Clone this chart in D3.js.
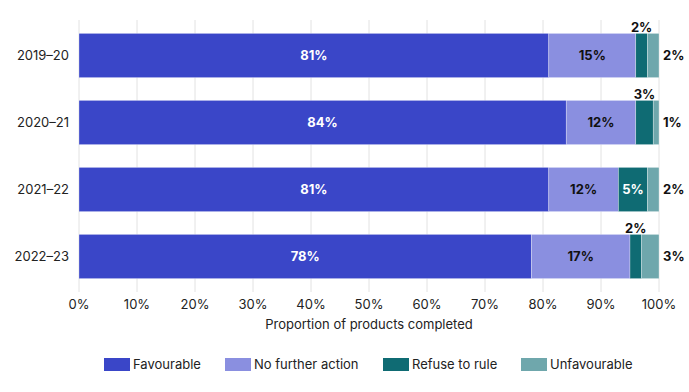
<!DOCTYPE html>
<html><head><meta charset="utf-8">
<script src="https://cdn.jsdelivr.net/npm/d3@7"></script>
<style>body{margin:0;background:#fff;font-family:Inter,"Noto Sans",sans-serif;}</style>
</head><body><svg id="c" width="689" height="392"></svg>
<script>
const categories = ["2019–20","2020–21","2021–22","2022–23"];
const seriesNames = ["Favourable","No further action","Refuse to rule","Unfavourable"];
const favourable = [81,84,81,78];
const noFurtherAction = [15,12,12,17];
const refuseToRule = [2,3,5,2];
const unfavourable = [2,1,2,3];
const xTicks = [0,10,20,30,40,50,60,70,80,90,100];
const colors = ["#3a46c8","#8a8fe0","#0f6b73","#6fa7ac"];

const svg = d3.select("#c");
const x = d3.scaleLinear().domain([0,100]).range([79,659]);
const y = d3.scaleBand().domain(categories).range([22,290]).paddingInner(0.34).paddingOuter(0.17);

const rows = categories.map((c,i)=>({cat:c, vals:[favourable[i],noFurtherAction[i],refuseToRule[i],unfavourable[i]]}));

// gridlines
svg.append("g").selectAll("line").data(xTicks).join("line")
  .attr("x1",d=>x(d)).attr("x2",d=>x(d)).attr("y1",20).attr("y2",292)
  .attr("stroke","#e2e2e2").attr("stroke-width",1);

// axis labels
svg.append("g").selectAll("text").data(xTicks).join("text")
  .attr("x",d=>x(d)).attr("y",309).attr("text-anchor","middle")
  .attr("font-size",13).attr("fill","#222").text(d=>d+"%");
svg.append("text").attr("x",x(50)).attr("y",329).attr("text-anchor","middle")
  .attr("font-size",13).attr("fill","#222").text("Proportion of products completed");

// y labels
svg.append("g").selectAll("text").data(categories).join("text")
  .attr("x",69).attr("y",d=>y(d)+y.bandwidth()/2).attr("dy","0.35em")
  .attr("text-anchor","end").attr("font-size",13).attr("fill","#222").text(d=>d);

rows.forEach(r=>{
  let cum=0;
  r.vals.forEach((v,k)=>{
    const x0=x(cum), x1=x(cum+v);
    const yy=y(r.cat), h=y.bandwidth();
    svg.append("rect").attr("x",x0).attr("y",yy).attr("width",x1-x0).attr("height",h)
      .attr("fill",colors[k]).attr("stroke","#fff").attr("stroke-width",0.5).attr("stroke-opacity",0.6);
    let lx=(x0+x1)/2, ly=yy+h/2, fill="#111", anchor="middle";
    if(k===3){ lx=x(100)+4; anchor="start"; }
    else if(v<4){ ly=yy-6; }
    if(k===0 || (k===2 && v>=4)) fill="#fff";
    svg.append("text").attr("x",lx).attr("y",ly).attr("dy","0.35em").attr("text-anchor",anchor)
      .attr("font-size",13).attr("font-weight",700).attr("fill",fill).text(v+"%");
    cum+=v;
  });
});

// legend
const legX=[104,225,383,521];
seriesNames.forEach((s,i)=>{
  svg.append("rect").attr("x",legX[i]).attr("y",358).attr("width",26).attr("height",13).attr("fill",colors[i]);
  svg.append("text").attr("x",legX[i]+29).attr("y",364.5).attr("dy","0.35em").attr("font-size",13).attr("fill","#222").text(s);
});
</script></body></html>
